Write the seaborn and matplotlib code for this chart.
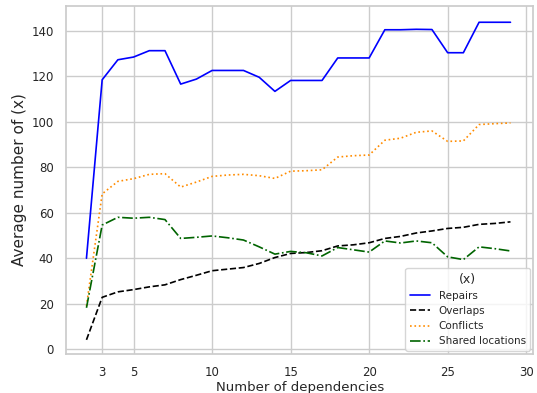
import numpy as np
import pandas as pd
import matplotlib as mpl
mpl.use("Agg")
from matplotlib import pyplot as plt
import seaborn as sns

deps = list(range(2, 30))

repairs = [40, 118.5, 127.3, 128.5, 131.3, 131.3, 116.6, 118.8, 122.6, 122.6,
           122.6, 119.6, 113.4, 118.2, 118.2, 118.2, 128.1, 128.1, 128.1, 140.5,
           140.5, 140.7, 140.6, 130.4, 130.4, 143.8, 143.8, 143.8]
overlaps = [4.1, 22.8, 25.2, 26.2, 27.4, 28.3, 30.6, 32.5, 34.5, 35.2,
            35.9, 37.7, 40.3, 42.1, 42.5, 43.3, 45.4, 45.9, 46.8, 48.7,
            49.6, 51.1, 52.0, 53.1, 53.6, 54.9, 55.3, 56.0]
conflicts = [19, 68.3, 73.8, 75.0, 76.9, 77.2, 71.3, 73.5, 76.0, 76.6,
             76.9, 76.3, 75.1, 78.3, 78.5, 78.9, 84.5, 85.1, 85.4, 91.9,
             92.8, 95.4, 96.0, 91.4, 91.6, 98.8, 99.2, 99.5]
shared = [18.2, 54.6, 58.0, 57.6, 58.0, 57.0, 48.7, 49.2, 49.8, 49.0,
          48.0, 45.0, 41.8, 43.0, 42.4, 41.0, 44.7, 43.7, 42.7, 47.6,
          46.7, 47.6, 46.8, 40.6, 39.4, 45.0, 44.2, 43.2]

series = ["Repairs", "Overlaps", "Conflicts", "Shared locations"]
colors = ["blue", "black", "darkorange", "darkgreen"]
styles = ["-", "--", ":", "-."]

df = pd.DataFrame({"deps": deps, "Repairs": repairs, "Overlaps": overlaps,
                   "Conflicts": conflicts, "Shared locations": shared})
df = df.melt(id_vars="deps", var_name="(x)", value_name="avg")

sns.set_theme(style="whitegrid")
fig, ax = plt.subplots(figsize=(5.37, 3.93), dpi=100)

for name, c, ls in zip(series, colors, styles):
    sns.lineplot(data=df[df["(x)"] == name], x="deps", y="avg", color=c,
                 linestyle=ls, linewidth=1.2, label=name, ax=ax)

ax.set_xticks([3, 5, 10, 15, 20, 25, 30])
ax.set_xlim(0.7, 30.45)
ax.set_ylim(-2, 151)
ax.tick_params(labelsize=8.5, pad=3)
ax.set_xlabel("Number of dependencies", fontsize=9.5, labelpad=1)
ax.set_ylabel("Average number of (x)", fontsize=11, labelpad=3)
for s in ax.spines.values():
    s.set_color("#cccccc")

leg = ax.legend(title="(x)", loc="lower right", fontsize=7.5, title_fontsize=9,
                frameon=True, borderaxespad=0.3)

fig.subplots_adjust(left=0.123, right=0.993, top=0.985, bottom=0.1)
fig.savefig("out.png", dpi=100)
